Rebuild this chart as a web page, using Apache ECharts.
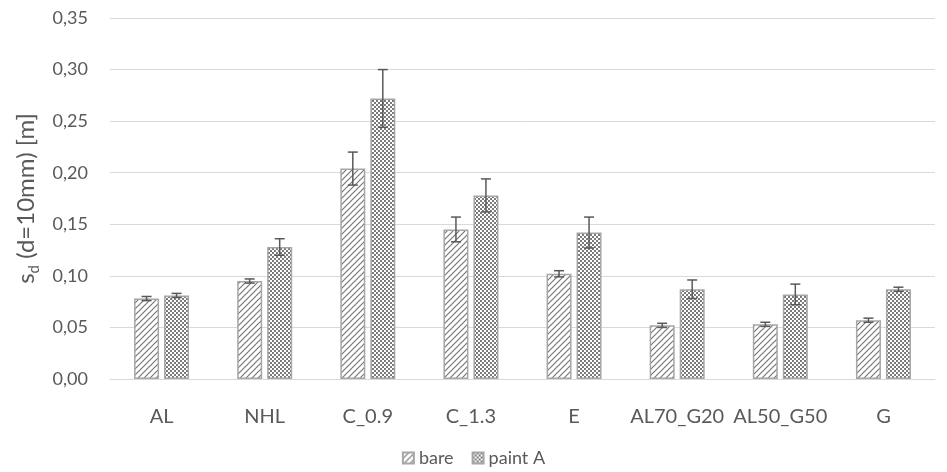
<!DOCTYPE html>
<html><head><meta charset="utf-8">
<script src="https://cdn.jsdelivr.net/npm/echarts@6/dist/echarts.min.js"></script>
<style>html,body{margin:0;padding:0;background:#fff}#c{width:947px;height:472px}</style>
</head><body><div id="c"></div>
<script>
const categories = ['AL','NHL','C_0.9','C_1.3','E','AL70_G20','AL50_G50','G'];
const bareValues = [0.078,0.095,0.204,0.145,0.102,0.052,0.053,0.057];
const bareErrors = [0.002,0.002,0.016,0.012,0.003,0.002,0.002,0.002];
const paintValues = [0.081,0.128,0.272,0.178,0.142,0.087,0.082,0.087];
const paintErrors = [0.002,0.008,0.028,0.016,0.015,0.009,0.010,0.002];
const seriesNames = ['bare','paint A'];

function hatch(){
  const s=6;
  const c=document.createElement('canvas');c.width=s;c.height=s;
  const g=c.getContext('2d');g.fillStyle='#fff';g.fillRect(0,0,s,s);
  g.strokeStyle='#777';g.lineWidth=1.2;
  g.beginPath();g.moveTo(-1,s+1);g.lineTo(s+1,-1);g.moveTo(-1,1);g.lineTo(1,-1);g.moveTo(s-1,s+1);g.lineTo(s+1,s-1);g.stroke();
  return c;
}
function checker(){
  const c=document.createElement('canvas');c.width=4;c.height=4;
  const g=c.getContext('2d');g.fillStyle='#fff';g.fillRect(0,0,4,4);
  g.fillStyle='#7a7a7a';g.fillRect(0,0,2,2);g.fillRect(2,2,2,2);
  return c;
}
const pats=[{image:hatch(),repeat:'repeat'},{image:checker(),repeat:'repeat'}];
const font='Lato, "Open Sans", sans-serif';
const chart=echarts.init(document.getElementById('c'));
const offsets=[-15,15];
function errData(vals,errs){return vals.map((v,i)=>[i,v-errs[i],v+errs[i]]);}
function errSeries(k,vals,errs){
  return {type:'custom',name:'err'+k,silent:true,z:10,
    data:errData(vals,errs),
    encode:{x:0,y:[1,2]},
    renderItem:function(params,api){
      const i=api.value(0);
      const lo=api.coord([i,api.value(1)]);const hi=api.coord([i,api.value(2)]);
      const x=lo[0]+offsets[k];const w=5;
      const st={stroke:'#595959',lineWidth:1.5};
      return {type:'group',children:[
        {type:'line',shape:{x1:x,y1:lo[1],x2:x,y2:hi[1]},style:st},
        {type:'line',shape:{x1:x-w,y1:lo[1],x2:x+w,y2:lo[1]},style:st},
        {type:'line',shape:{x1:x-w,y1:hi[1],x2:x+w,y2:hi[1]},style:st}
      ]};
    }};
}
chart.setOption({
  animation:false,
  textStyle:{fontFamily:font},
  grid:{left:110,right:12,top:18,bottom:93},
  legend:{data:seriesNames,bottom:0,left:'center',icon:'rect',itemWidth:11,itemHeight:11,itemGap:18,
    textStyle:{fontFamily:font,fontSize:18,color:'#595959'}},
  xAxis:{type:'category',data:categories,
    axisLine:{lineStyle:{color:'#d9d9d9',width:1}},axisTick:{show:false},
    axisLabel:{color:'#595959',fontSize:20,fontFamily:font,margin:28,interval:0}},
  yAxis:{type:'value',min:0,max:0.35,interval:0.05,
    name:'{a|s}{b|d}{a| (d=10mm) [m]}',nameLocation:'middle',nameGap:62,nameRotate:90,
    nameTextStyle:{rich:{a:{fontSize:24,color:'#595959',fontFamily:font,height:30},b:{fontSize:15,color:'#595959',fontFamily:font,verticalAlign:'bottom',lineHeight:30,padding:[14,0,0,0]}}},
    axisLine:{show:false},axisTick:{show:false},
    splitLine:{lineStyle:{color:'#d9d9d9',width:1}},
    axisLabel:{color:'#595959',fontSize:18,fontFamily:font,margin:22,formatter:v=>v.toFixed(2).replace('.',',')}},
  series:[
    {type:'bar',name:seriesNames[0],data:bareValues,barWidth:25,barGap:'20%',
      itemStyle:{color:pats[0],borderColor:'#a6a6a6',borderWidth:1.5}},
    {type:'bar',name:seriesNames[1],data:paintValues,barWidth:25,barGap:'20%',
      itemStyle:{color:pats[1],borderColor:'#a6a6a6',borderWidth:1.5}},
    errSeries(0,bareValues,bareErrors),
    errSeries(1,paintValues,paintErrors)
  ]
});
</script></body></html>
